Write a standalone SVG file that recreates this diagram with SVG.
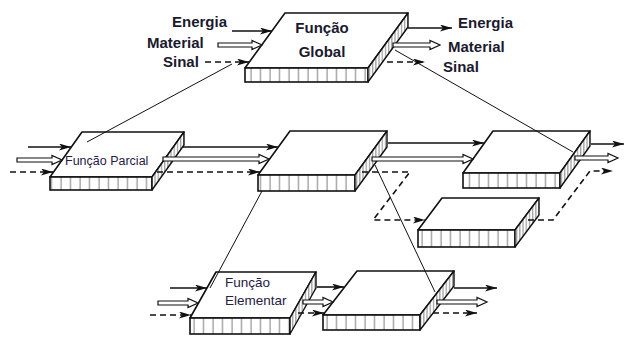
<svg xmlns="http://www.w3.org/2000/svg" width="625" height="349" viewBox="0 0 625 349">
  <defs>
    <style>
      .top { fill: #fff; stroke: #111; stroke-width: 1.6; stroke-linejoin: round; }
      .front { fill: url(#front-ticks); stroke: #111; stroke-width: 1.6; }
      .side { fill: url(#side-hatch); stroke: #111; stroke-width: 1.4; stroke-linejoin: round; }
      .en { fill: none; stroke: #111; stroke-width: 1.6; marker-end: url(#ah); }
      .si { fill: none; stroke: #111; stroke-width: 1.6; stroke-dasharray: 6 4; marker-end: url(#ah); }
      .ma { fill: #fff; stroke: #111; stroke-width: 1.2; stroke-linejoin: miter; }
      .link { fill: none; stroke: #111; stroke-width: 1; }
      .lbl { font-family: "Liberation Sans", Arial, sans-serif; font-weight: bold; font-size: 15px; fill: #1a1a2e; }
      .name { font-family: "Liberation Sans", Arial, sans-serif; font-size: 12.5px; fill: #1f2044; }
      .name.big { font-size: 13.5px; }
    </style>
    <pattern id="front-ticks" width="9.5" height="40" patternUnits="userSpaceOnUse">
      <rect width="9.5" height="40" fill="#fff"/>
      <line x1="4" y1="0" x2="4" y2="40" stroke="#555" stroke-width="0.8"/>
    </pattern>
    <pattern id="side-hatch" width="3.2" height="40" patternUnits="userSpaceOnUse">
      <rect width="3.2" height="40" fill="#fff"/>
      <line x1="1.5" y1="0" x2="1.5" y2="40" stroke="#555" stroke-width="0.8"/>
    </pattern>
    <marker id="ah" markerUnits="userSpaceOnUse" markerWidth="13" markerHeight="8" refX="12" refY="3.5" orient="auto">
      <path d="M0,0 L12,3.5 L0,7 L3,3.5 Z" fill="#111"/>
    </marker>
  </defs>

  <!-- Global function -->
  <g id="global">
    <polygon class="top" points="245,68 368,68 408,13 285,13"/>
    <rect class="front" x="245" y="68" width="123" height="14"/>
    <polygon class="side" points="368,68 408,13 408,27 368,82"/>
    <text class="lbl" x="322" y="33" text-anchor="middle">Função</text>
    <text class="lbl" x="322" y="57" text-anchor="middle">Global</text>
  </g>

  <!-- Partial function -->
  <g id="parcial">
    <polygon class="top" points="50,177 152,177 184,132 82,132"/>
    <rect class="front" x="50" y="177" width="102" height="13"/>
    <polygon class="side" points="152,177 184,132 184,145 152,190"/>
    <text class="name" x="65" y="165">Função Parcial</text>
  </g>

  <g id="box2">
    <polygon class="top" points="258,175 355,175 387,131 290,131"/>
    <rect class="front" x="258" y="175" width="97" height="16"/>
    <polygon class="side" points="355,175 387,131 387,147 355,191"/>
  </g>

  <g id="box3">
    <polygon class="top" points="463,173 560,173 590,131 493,131"/>
    <rect class="front" x="463" y="173" width="97" height="15"/>
    <polygon class="side" points="560,173 590,131 590,146 560,188"/>
  </g>

  <g id="box4">
    <polygon class="top" points="418,230 515,230 539,198 442,198"/>
    <rect class="front" x="418" y="230" width="97" height="17"/>
    <polygon class="side" points="515,230 539,198 539,215 515,247"/>
  </g>

  <!-- Elementary functions -->
  <g id="elementar">
    <polygon class="top" points="190,318 290,318 316,272 216,272"/>
    <rect class="front" x="190" y="318" width="100" height="16"/>
    <polygon class="side" points="290,318 316,272 316,288 290,334"/>
    <text class="name big" x="225" y="287">Função</text>
    <text class="name big" x="225" y="305">Elementar</text>
  </g>

  <g id="box6">
    <polygon class="top" points="323,315 420,315 454,271 357,271"/>
    <rect class="front" x="323" y="315" width="97" height="15"/>
    <polygon class="side" points="420,315 454,271 454,286 420,330"/>
  </g>

  <!-- Flow labels -->
  <g id="labels">
    <text class="lbl" x="172" y="27">Energia</text>
    <text class="lbl" x="147" y="48">Material</text>
    <text class="lbl" x="163" y="67">Sinal</text>
    <text class="lbl" x="458" y="28">Energia</text>
    <text class="lbl" x="448" y="52">Material</text>
    <text class="lbl" x="443" y="72">Sinal</text>
  </g>

  <g id="connectors">
    <!-- decomposition links -->
    <line class="link" x1="232" y1="64" x2="87" y2="142"/>
    <line class="link" x1="395" y1="50" x2="573" y2="152"/>
    <line class="link" x1="262" y1="191" x2="210" y2="288"/>
    <line class="link" x1="375" y1="165" x2="435" y2="292"/>

    <!-- global in/out -->
    <line class="en" x1="232" y1="31" x2="272" y2="31"/>
    <polygon class="ma" points="218,43 252,43 252,40.5 262,45 252,49.5 252,47 218,47"/>
    <line class="si" x1="205" y1="62" x2="249" y2="62"/>
    <line class="en" x1="408" y1="28" x2="452" y2="28"/>
    <polygon class="ma" points="393,43 430,43 430,40.5 440,45 430,49.5 430,47 393,47"/>
    <line class="si" x1="387" y1="62" x2="425" y2="62"/>

    <!-- partial function inputs -->
    <line class="en" x1="28" y1="147" x2="71" y2="147"/>
    <polygon class="ma" points="17,158 52,158 52,155.5 62,160 52,164.5 52,162 17,162"/>
    <line class="si" x1="10" y1="172" x2="53" y2="172"/>

    <!-- partial to box2 -->
    <line class="en" x1="183" y1="147" x2="278" y2="147"/>
    <polygon class="ma" points="163,157 259,157 259,154.5 269,159 259,163.5 259,161 163,161"/>
    <line class="si" x1="157" y1="172" x2="260" y2="172"/>

    <!-- box2 to box3 / box4 -->
    <line class="en" x1="388" y1="143" x2="484" y2="143"/>
    <polygon class="ma" points="372,157 463,157 463,154.5 473,159 463,163.5 463,161 372,161"/>
    <path class="si" d="M362,172 L410,172 L373,220 L425,220"/>

    <!-- box4 and box3 outputs -->
    <path class="si" d="M528,220 L553,220 L590,171 L613,171"/>
    <line class="en" x1="591" y1="144" x2="624" y2="144"/>
    <polygon class="ma" points="575,156 608,156 608,153.5 618,158 608,162.5 608,160 575,160"/>

    <!-- elementary inputs -->
    <line class="en" x1="170" y1="288" x2="207" y2="288"/>
    <polygon class="ma" points="158,301 188,301 188,298.5 198,303 188,307.5 188,305 158,305"/>
    <line class="si" x1="150" y1="315" x2="191" y2="315"/>

    <!-- elementary to box6 -->
    <line class="en" x1="317" y1="287" x2="344" y2="287"/>
    <polygon class="ma" points="303,300 323,300 323,297.5 333,302 323,306.5 323,304 303,304"/>
    <line class="si" x1="298" y1="313" x2="324" y2="313"/>

    <!-- box6 outputs -->
    <line class="en" x1="454" y1="288" x2="497" y2="288"/>
    <polygon class="ma" points="437,300 477,300 477,297.5 487,302 477,306.5 477,304 437,304"/>
    <line class="si" x1="433" y1="313" x2="477" y2="313"/>
  </g>
</svg>
